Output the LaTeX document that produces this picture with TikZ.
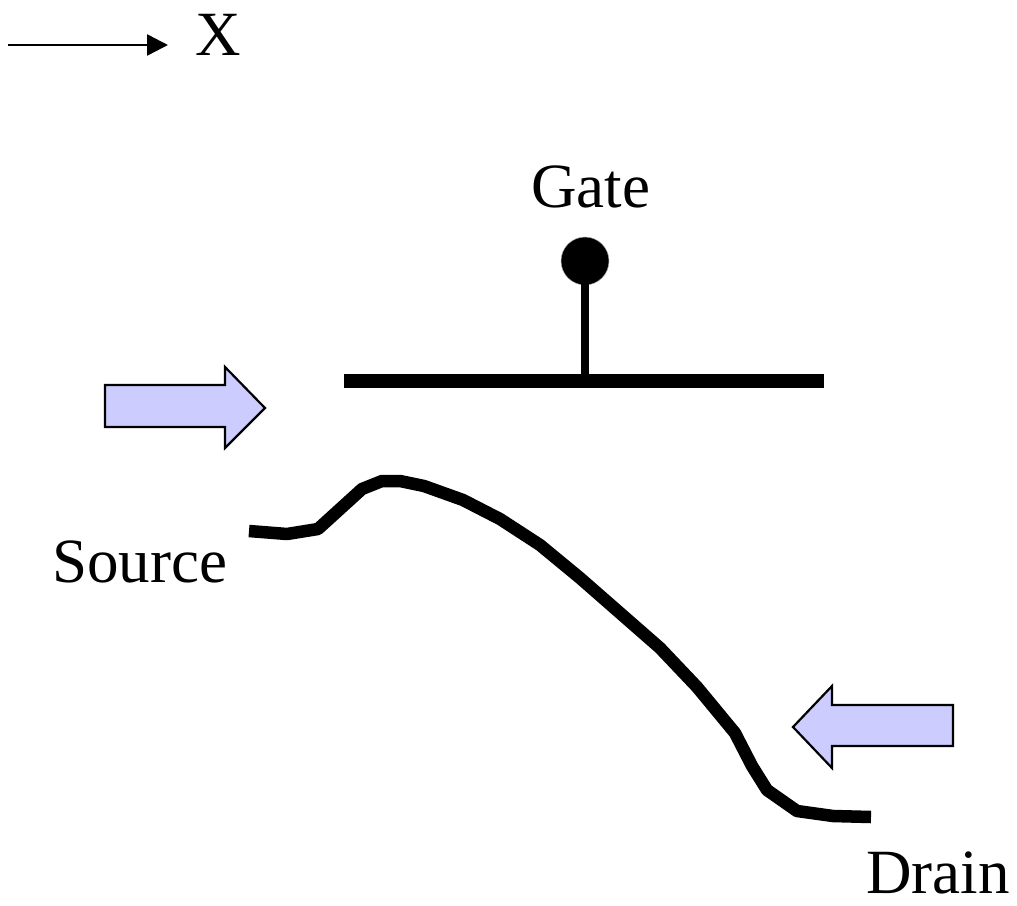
\documentclass[tikz,border=0pt]{standalone}
\usepackage{fontspec}
\setmainfont{Liberation Serif}
\usetikzlibrary{arrows.meta}
\tikzset{
  lbl/.style={anchor=base west, inner sep=0pt, font=\fontsize{63}{63}\selectfont},
  bluearrow/.style={draw=black, line width=2.2pt, fill=blockfill, line join=miter},
  wire/.style={line width=12.5pt, line join=round},
}
\definecolor{blockfill}{RGB}{204,204,255}
\begin{document}
\begin{tikzpicture}[x=1pt,y=-1pt]
\useasboundingbox (0,0) rectangle (1017,905);
% axis arrow
\coordinate (xs) at (8,45);
\coordinate (xe) at (168,45);
\draw[line width=2.5pt, -{Triangle[length=21pt,width=21pt]}] (xs) -- (xe);
\node[lbl] (xlab) at (195,55) {X};
% gate
\node[lbl] (gate) at (531,207) {Gate};
\node[circle, fill=black, draw=gray!60, line width=0.5pt, minimum size=48pt, inner sep=0pt] (gc) at (585,261) {};
\coordinate (gb) at (585,381);
\draw[line width=8pt] (gc.center) -- (gb);
\coordinate (bl) at (344,381);
\coordinate (br) at (824,381);
\draw[line width=14pt] (bl) -- (br);
% blue arrows
\draw[bluearrow] (105,385) -- (225,385) -- (225,367) -- (265,408) -- (225,448) -- (225,427) -- (105,427) -- cycle;
\draw[bluearrow] (953,705) -- (832,705) -- (832,686) -- (793,727) -- (832,768) -- (832,746) -- (953,746) -- cycle;
% channel curve
\draw[wire] (249,531) -- (287,534) -- (318,529) -- (340,509) -- (362,489) -- (382,481) -- (400,481) -- (424,486) -- (463,500) -- (500,519) -- (540,545) -- (580,578) -- (620,613) -- (660,648) -- (697,687) -- (735,733) -- (752,766) -- (767,790) -- (797,811) -- (833,816) -- (871,817);
% labels
\node[lbl] (source) at (52,582) {Source};
\node[lbl] (drain) at (866,893) {Drain};
\end{tikzpicture}
\end{document}
